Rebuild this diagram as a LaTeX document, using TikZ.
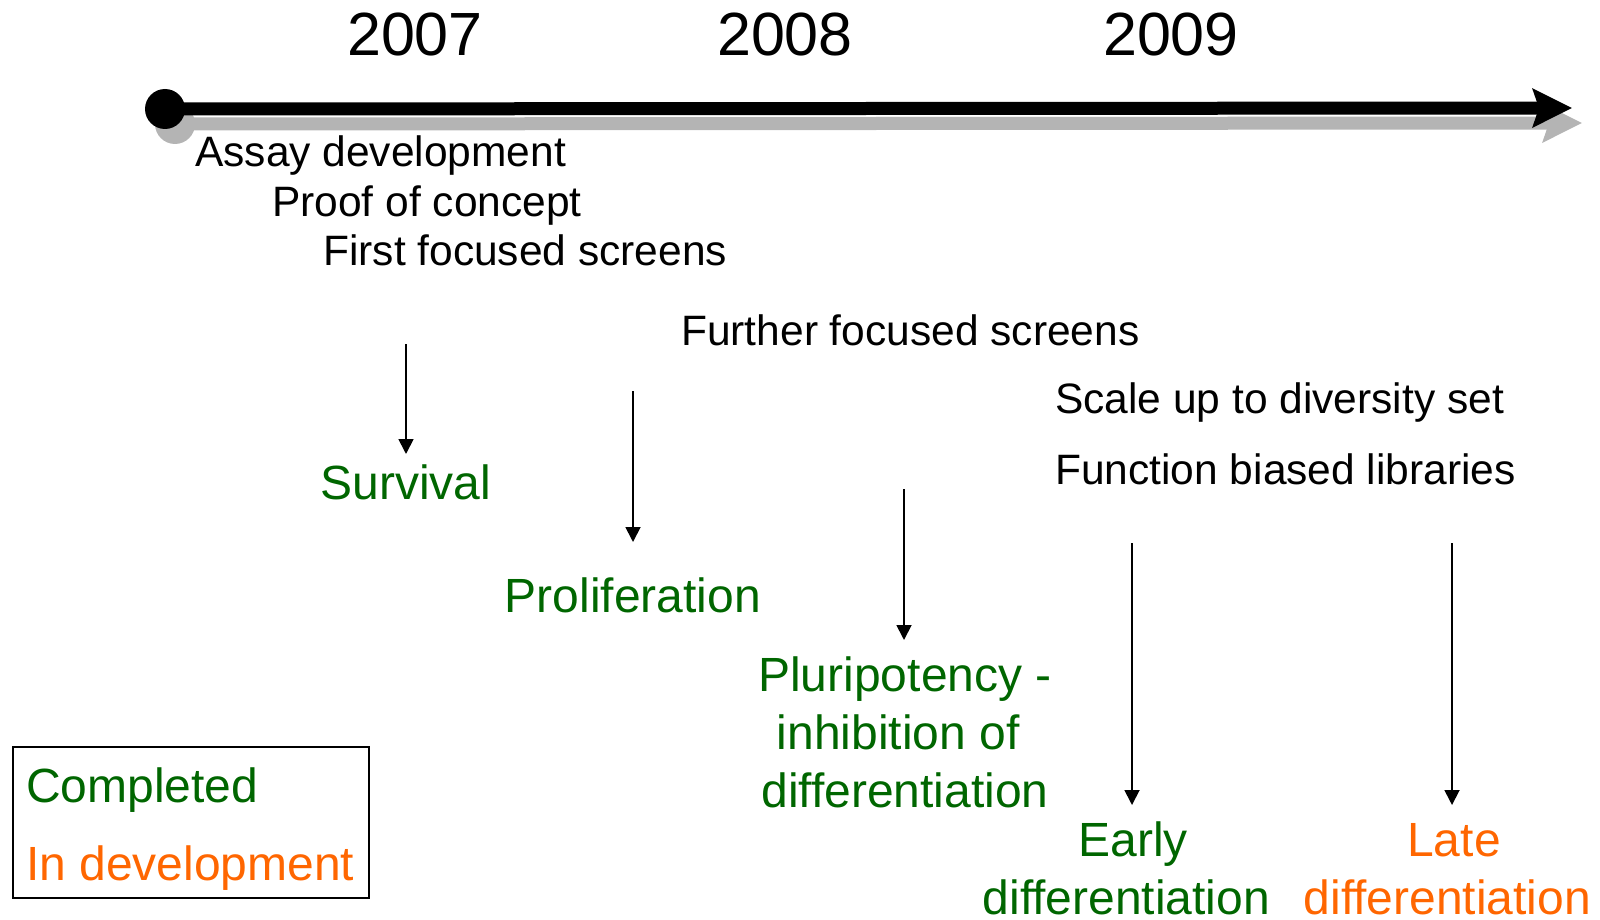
\documentclass[tikz,border=0pt]{standalone}
\usepackage{fontspec}
\setmainfont{Liberation Sans}
\usetikzlibrary{arrows.meta}
\definecolor{cgreen}{RGB}{0,102,0}
\definecolor{corange}{RGB}{255,102,0}
\definecolor{cshadow}{RGB}{180,180,180}
\newcommand{\trsp}{\rule{0.278em}{0pt}}
\tikzset{
  year/.style={inner sep=0pt, anchor=base, font=\fontsize{61}{66}\selectfont},
  task/.style={inner sep=0pt, anchor=base west, font=\fontsize{42.5}{50}\selectfont},
  stage/.style={inner sep=0pt, anchor=base, align=center, font=\fontsize{48}{58}\selectfont},
  done/.style={stage, text=cgreen},
  dev/.style={stage, text=corange},
  legtext/.style={inner sep=0pt, anchor=base west, font=\fontsize{48}{58}\selectfont},
  pointer/.style={line width=1.8pt, -{Triangle[length=15pt,width=15pt]}},
  mainline/.style={line width=13pt, -{Stealth[length=39pt,width=38pt,inset=6pt]}},
}
\begin{document}
\begin{tikzpicture}[x=1pt,y=-1pt]
\useasboundingbox (0,0) rectangle (1600,920);
% shadow of the timeline
\coordinate (s0) at (175,124);
\coordinate (s1) at (1582,123);
\fill[cshadow] (s0) circle (20);
\draw[mainline, cshadow] (s0) -- (s1);
% timeline
\coordinate (t0) at (165,109);
\coordinate (t1) at (1572,108);
\fill[black] (t0) circle (20);
\draw[mainline, black] (t0) -- (t1);
% years
\node[year] (y7) at (415,56) {2007};
\node[year] (y8) at (785,56) {2008};
\node[year] (y9) at (1171,56) {2009};
% tasks
\node[task] (a1) at (195,167) {Assay development};
\node[task] (a2) at (272,216) {Proof of concept};
\node[task] (a3) at (323,265) {First focused screens};
\node[task] (a4) at (681,345) {Further focused screens};
\node[task] (a5) at (1055,413) {Scale up to diversity set};
\node[task] (a6) at (1055,484) {Function biased libraries};
% stages (base = baseline of last line)
\node[done] (surv) at (406,499) {Survival};
\node[done] (prol) at (633,612) {Proliferation};
\node[done] (plur) at (905,807) {Pluripotency -\\inhibition of\trsp\\differentiation};
\node[done] (early) at (1133,914) {Early\\differentiation\trsp};
\node[dev] (late) at (1454,914) {Late\\differentiation\trsp};
% pointers
\coordinate (p1s) at (406,344); \coordinate (p1e) at (406,454);
\coordinate (p2s) at (633,391); \coordinate (p2e) at (633,542);
\coordinate (p3s) at (904,489); \coordinate (p3e) at (904,640);
\coordinate (p4s) at (1132,543); \coordinate (p4e) at (1132,805);
\coordinate (p5s) at (1452,543); \coordinate (p5e) at (1452,805);
\draw[pointer] (p1s) -- (p1e);
\draw[pointer] (p2s) -- (p2e);
\draw[pointer] (p3s) -- (p3e);
\draw[pointer] (p4s) -- (p4e);
\draw[pointer] (p5s) -- (p5e);
% legend
\node[draw, line width=1.5pt, inner sep=0pt, minimum width=356pt, minimum height=151pt, anchor=north west] (legend) at (12,746) {};
\node[legtext, text=cgreen] (lg1) at (26,802) {Completed};
\node[legtext, text=corange] (lg2) at (26,880) {In development};
\end{tikzpicture}
\end{document}
